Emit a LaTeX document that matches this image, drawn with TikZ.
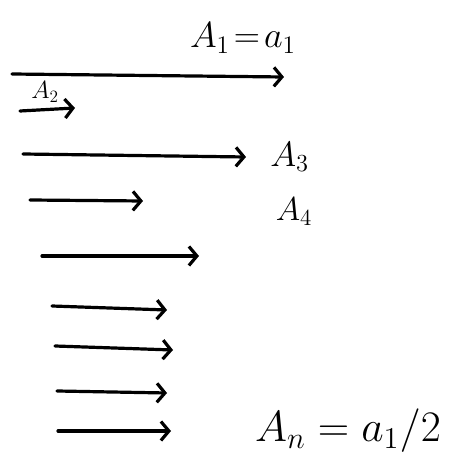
\documentclass[tikz,border=0pt]{standalone}
\usepackage{amsmath}
\usetikzlibrary{positioning}
\usetikzlibrary{arrows.meta}
\tikzset{
part_arrow/.style={-{Straight Barb[length=8pt,width=19pt]}, line width=3.2pt, line cap=round},
part_label/.style={inner sep=0pt, text=black, font=\huge}
}

\begin{document}
\begin{tikzpicture}[x=1pt,y=-1pt]
    \useasboundingbox (0,0) rectangle (461,454);
    \coordinate (s1) at (12,74);   \coordinate (e1) at (284,77);
    \coordinate (s2) at (20,111);  \coordinate (e2) at (75,108);
    \coordinate (s3) at (23,154);  \coordinate (e3) at (246,157);
    \coordinate (s4) at (30,200);  \coordinate (e4) at (143,201);
    \coordinate (s5) at (42,256);  \coordinate (e5) at (199,256);
    \coordinate (s6) at (52,306);  \coordinate (e6) at (167,310);
    \coordinate (s7) at (55,346);  \coordinate (e7) at (173,350);
    \coordinate (s8) at (57,391);  \coordinate (e8) at (167,393);
    \coordinate (s9) at (58,431);  \coordinate (e9) at (171,431);
    \draw[part_arrow] (s1) -- (e1);
    \draw[part_arrow] (s2) -- (e2);
    \draw[part_arrow] (s3) -- (e3);
    \draw[part_arrow] (s4) -- (e4);
    \draw[part_arrow] (s5) -- (e5);
    \draw[part_arrow] (s6) -- (e6);
    \draw[part_arrow] (s7) -- (e7);
    \draw[part_arrow] (s8) -- (e8);
    \draw[part_arrow] (s9) -- (e9);
    \node[part_label, scale=1.75] (label_1) at (243,38) {$A_1\!=\!a_1$};
    \node[part_label, scale=1.2] (label_2) at (45,92) {$A_2$};
    \node[part_label, scale=1.7, right=24pt of e3] (label_3) {$A_3$};
    \node[part_label, scale=1.6] (label_4) at (294,212) {$A_4$};
    \node[part_label, scale=2.1] (label_n) at (348,431) {$A_n = a_1/2$};
\end{tikzpicture}
\end{document}
